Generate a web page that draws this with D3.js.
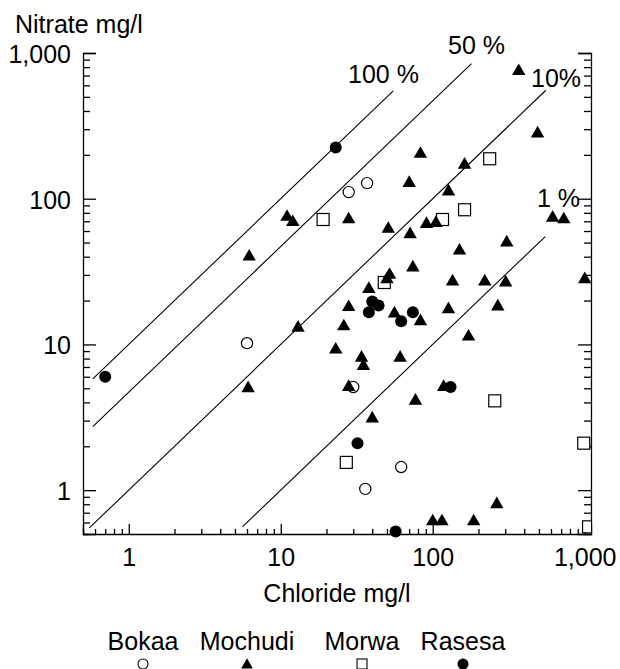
<!DOCTYPE html>
<html>
<head>
<meta charset="utf-8">
<script src="https://cdn.jsdelivr.net/npm/d3@7"></script>
<style>
	body { margin: 0; background: #fff; }
	svg text { font-family: "Liberation Sans", Arial, Helvetica, sans-serif; fill: #000; }
</style>
</head>
<body>
<svg id="chart" width="620" height="669"></svg>
<script>
// chloride (x) and nitrate (y), mg/l
var bokaaCl  = [6, 28, 37, 30, 62, 36];
var bokaaNo3 = [10.2, 111, 128, 5.1, 1.44, 1.02];

var mochudiCl  = [11, 12, 6.2, 6.1, 13, 83, 70, 368, 490, 162, 127, 28, 51, 71, 91, 105, 150, 307, 615, 728,
	74, 52, 50, 38, 135, 220, 302, 1000, 28, 56, 83, 127, 268, 26, 172, 23, 34, 35, 61, 28, 118, 77, 40, 264, 100, 115, 186];
var mochudiNo3 = [75, 69, 40, 5, 13, 203, 128, 750, 280, 171, 112, 72, 62, 57, 67, 68, 44, 50, 74, 72,
	33.7, 30, 28, 24, 27, 27, 26.6, 28, 18, 16.3, 14.4, 17.4, 18.2, 13.3, 11.3, 9.2, 8.1, 7.1, 8.1, 5.1, 5.1, 4.1, 3.1, 0.8, 0.61, 0.61, 0.61];

var morwaCl  = [19, 237, 162, 116, 48, 256, 985, 27, 1060];
var morwaNo3 = [72, 188, 84, 72, 26.6, 4.1, 2.1, 1.55, 0.56];

var rasesaCl  = [0.7, 23, 40, 44, 38, 74, 62, 131, 32, 57];
var rasesaNo3 = [6, 225, 19.7, 18.5, 16.6, 16.6, 14.4, 5.1, 2.1, 0.52];

// ratio lines: label, nitrate/chloride ratio, chloride start and end
var ratioLabels = ["100 %", "50 %", "10%", "1 %"];
var ratioValues = [10, 4.7, 1, 0.1];
var ratioFrom   = [0.58, 0.58, 0.55, 5.6];
var ratioTo     = [55, 180, 555, 550];

var sites = ["Bokaa", "Mochudi", "Morwa", "Rasesa"];
var xMajor = [1, 10, 100, 1000];
var yMajor = [1, 10, 100, 1000];

var margin = {top: 53, right: 29, bottom: 135, left: 83},
	width = 620 - margin.left - margin.right,
	height = 669 - margin.top - margin.bottom,
	fontSize = 25;

var x = d3.scaleLog().domain([0.5, 1100]).range([0, width]);
var y = d3.scaleLog().domain([0.5, 1000]).range([height, 0]);

function minors(lo, hi) {
	var out = [];
	for (var p = -1; p < 4; p++) {
		for (var m = 2; m < 10; m++) {
			var v = m * Math.pow(10, p);
			if (v >= lo && v <= hi) out.push(v);
		}
	}
	return out;
}

var svg = d3.select("#chart");

// points stop at the right-hand axis
svg.append("defs").append("clipPath")
	.attr("id", "plotClip")
	.append("rect")
	.attr("x", -30).attr("y", -30)
	.attr("width", width + 30).attr("height", height + 60);

var g = svg.append("g")
	.attr("transform", "translate(" + margin.left + "," + margin.top + ")");

// axes, ticks point inward
function styleAxis(sel) {
	sel.selectAll("path, line").attr("stroke", "#000").attr("stroke-width", 1.3);
	sel.selectAll("text").attr("font-size", fontSize).attr("font-family", null);
}

g.append("g")
	.attr("transform", "translate(0," + height + ")")
	.call(d3.axisBottom(x).tickValues(xMajor).tickSize(-10).tickPadding(14).tickFormat(d3.format(",")))
	.call(styleAxis);
g.append("g")
	.attr("transform", "translate(0," + height + ")")
	.call(d3.axisBottom(x).tickValues(minors(0.5, 1100)).tickSize(-5).tickFormat(""))
	.call(styleAxis)
	.select(".domain").remove();

g.append("g")
	.call(d3.axisLeft(y).tickValues(yMajor).tickSize(-13).tickPadding(12).tickFormat(d3.format(",")))
	.call(styleAxis)
	.selectAll("text").attr("dy", "0.38em");
g.append("g")
	.call(d3.axisLeft(y).tickValues(minors(0.5, 1000)).tickSize(-7).tickFormat(""))
	.call(styleAxis)
	.select(".domain").remove();

g.append("g")
	.attr("transform", "translate(" + width + ",0)")
	.call(d3.axisRight(y).tickValues(yMajor).tickSize(-13).tickFormat(""))
	.call(styleAxis);
g.append("g")
	.attr("transform", "translate(" + width + ",0)")
	.call(d3.axisRight(y).tickValues(minors(0.5, 1000)).tickSize(-7).tickFormat(""))
	.call(styleAxis)
	.select(".domain").remove();

// axis titles
svg.append("text")
	.attr("x", 15).attr("y", 33)
	.attr("font-size", fontSize)
	.text("Nitrate mg/l");
svg.append("text")
	.attr("x", margin.left + width / 2).attr("y", 602)
	.attr("text-anchor", "middle")
	.attr("font-size", fontSize)
	.text("Chloride mg/l");

// ratio lines
var lineGen = d3.line()
	.x(function(d) { return x(d[0]); })
	.y(function(d) { return y(d[1]); });

ratioValues.forEach(function(r, i) {
	g.append("path")
		.attr("fill", "none")
		.attr("stroke", "#000")
		.attr("stroke-width", 1.1)
		.attr("d", lineGen([[ratioFrom[i], ratioFrom[i] * r], [ratioTo[i], ratioTo[i] * r]]));
});

var labelPos = [[348, 83], [448, 54], [531, 87], [537, 207]];
ratioLabels.forEach(function(t, i) {
	svg.append("text")
		.attr("x", labelPos[i][0]).attr("y", labelPos[i][1])
		.attr("font-size", fontSize)
		.text(t);
});

// points
function zip(a, b) { return a.map(function(v, i) { return [v, b[i]]; }); }

var pts = g.append("g").attr("clip-path", "url(#plotClip)");
var tri = d3.symbol().type(d3.symbolTriangle).size(78);

function drawCircles(data, filled) {
	pts.append("g").selectAll("circle")
		.data(data).enter()
		.append("circle")
		.attr("cx", function(d) { return x(d[0]); })
		.attr("cy", function(d) { return y(d[1]); })
		.attr("r", filled ? 6 : 5.6)
		.attr("fill", filled ? "#000" : "#fff")
		.attr("stroke", "#000")
		.attr("stroke-width", filled ? 0 : 1.2);
}

drawCircles(zip(bokaaCl, bokaaNo3), false);

pts.append("g").selectAll("rect")
	.data(zip(morwaCl, morwaNo3)).enter()
	.append("rect")
	.attr("x", function(d) { return x(d[0]) - 6; })
	.attr("y", function(d) { return y(d[1]) - 6; })
	.attr("width", 12).attr("height", 12)
	.attr("fill", "#fff")
	.attr("stroke", "#000")
	.attr("stroke-width", 1.2);

drawCircles(zip(rasesaCl, rasesaNo3), true);

pts.append("g").selectAll("path")
	.data(zip(mochudiCl, mochudiNo3)).enter()
	.append("path")
	.attr("d", tri)
	.attr("transform", function(d) { return "translate(" + x(d[0]) + "," + y(d[1]) + ")"; })
	.attr("fill", "#000");

// legend
var legendX = [143, 247, 362, 463];
var lg = svg.append("g");
lg.selectAll("text")
	.data(sites).enter()
	.append("text")
	.attr("x", function(d, i) { return legendX[i]; })
	.attr("y", 650)
	.attr("text-anchor", "middle")
	.attr("font-size", fontSize)
	.text(function(d) { return d; });

var symY = 664;
lg.append("circle").attr("cx", legendX[0]).attr("cy", symY).attr("r", 5)
	.attr("fill", "#fff").attr("stroke", "#000").attr("stroke-width", 1.1);
lg.append("path").attr("d", d3.symbol().type(d3.symbolTriangle).size(60))
	.attr("transform", "translate(" + legendX[1] + "," + (symY + 1) + ")");
lg.append("rect").attr("x", legendX[2] - 5).attr("y", symY - 5).attr("width", 10).attr("height", 10)
	.attr("fill", "#fff").attr("stroke", "#000").attr("stroke-width", 1.1);
lg.append("circle").attr("cx", legendX[3]).attr("cy", symY).attr("r", 5.5)
	.attr("fill", "#000");
</script>
</body>
</html>
